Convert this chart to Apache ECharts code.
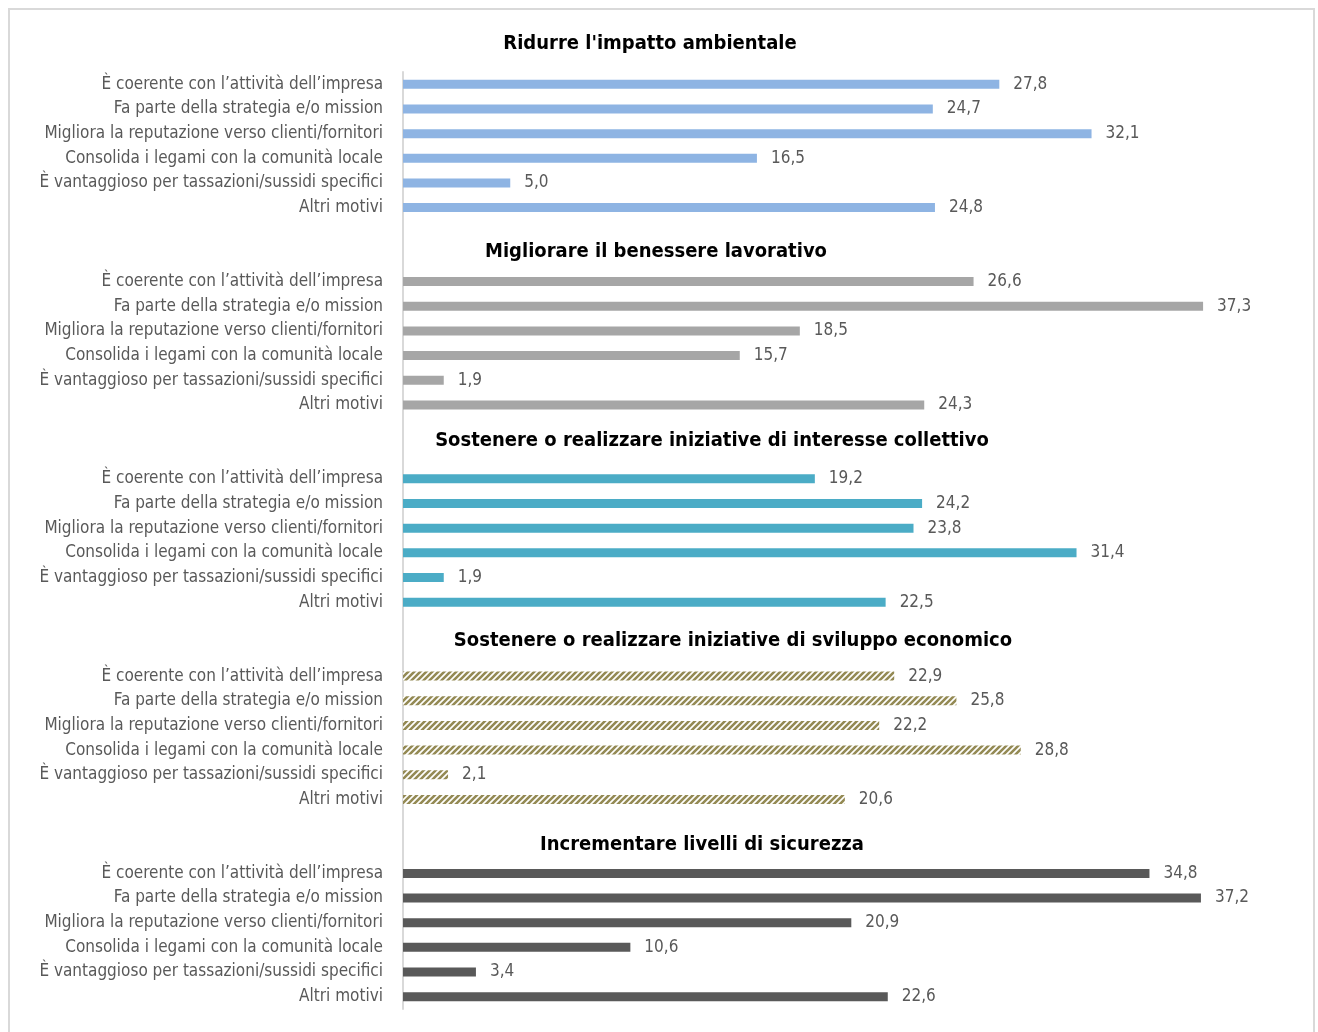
<!DOCTYPE html>
<html>
<head>
<meta charset="utf-8">
<script src="https://cdn.jsdelivr.net/npm/echarts@6/dist/echarts.min.js"></script>
<style>
html,body{margin:0;padding:0;background:#fff;}
#frame{position:absolute;left:8px;top:8px;width:1307px;height:1040px;border:2px solid #d9d9d9;box-sizing:border-box;}
#chart{position:absolute;left:0;top:0;width:1318px;height:1032px;}
</style>
</head>
<body>
<div id="frame"></div>
<div id="chart"></div>
<script>
const reasons = [
  "È coerente con l’attività dell’impresa",
  "Fa parte della strategia e/o mission",
  "Migliora la reputazione verso clienti/fornitori",
  "Consolida i legami con la comunità locale",
  "È vantaggioso per tassazioni/sussidi specifici",
  "Altri motivi"
];
const groupTitles = [
  "Ridurre l'impatto ambientale",
  "Migliorare il benessere lavorativo",
  "Sostenere o realizzare iniziative di interesse collettivo",
  "Sostenere o realizzare iniziative di sviluppo economico",
  "Incrementare livelli di sicurezza"
];
const ambiente = [27.8, 24.7, 32.1, 16.5, 5.0, 24.8];
const benessere = [26.6, 37.3, 18.5, 15.7, 1.9, 24.3];
const collettivo = [19.2, 24.2, 23.8, 31.4, 1.9, 22.5];
const economico = [22.9, 25.8, 22.2, 28.8, 2.1, 20.6];
const sicurezza = [34.8, 37.2, 20.9, 10.6, 3.4, 22.6];

const groupValues = [ambiente, benessere, collettivo, economico, sicurezza];

const FONT = "'Liberation Sans Narrow', 'Arial Narrow', 'DejaVu Sans Condensed', sans-serif";

// hatch pattern
const S = 6;
const pc = document.createElement('canvas');
pc.width = S; pc.height = S;
const pctx = pc.getContext('2d');
pctx.fillStyle = '#ffffff';
pctx.fillRect(0,0,S,S);
pctx.strokeStyle = '#948a54';
pctx.lineWidth = 2.6;
pctx.beginPath();
for (let o = -S; o <= S; o += S) { pctx.moveTo(o - 1, S + 1); pctx.lineTo(o + S + 1, -1); }
pctx.stroke();

const colors = ['#8eb4e3', '#a6a6a6', '#4bacc6', {image: pc, repeat: 'repeat'}, '#595959'];

// build slots: group 0 = 6 slots, later groups = 2 blank + 6
const cats = [];
const slotGroup = [];
const slotIdx = [];
groupValues.forEach((vals, g) => {
  if (g > 0) { cats.push(''); slotGroup.push(-1); slotIdx.push(-1); cats.push(''); slotGroup.push(-1); slotIdx.push(-1); }
  reasons.forEach((r, i) => { cats.push(r); slotGroup.push(g); slotIdx.push(i); });
});

const series = groupValues.map((vals, g) => ({
  type: 'bar',
  stack: 'all',
  barWidth: 9,
  itemStyle: { color: colors[g] },
  label: {
    show: true, position: 'right', distance: 14,
    color: '#595959', fontSize: 17, fontFamily: FONT,
    formatter: p => p.value.toFixed(1).replace('.', ',')
  },
  data: cats.map((c, k) => slotGroup[k] === g ? vals[slotIdx[k]] : '-')
}));

const titleTops = [29, 237, 426, 626, 830];
const titleCenters = [645, 651, 707, 728, 697];
const titles = groupTitles.map((t, g) => ({
  text: t, left: titleCenters[g], top: titleTops[g], textAlign: 'center',
  textStyle: { fontSize: 20, fontWeight: 'bold', color: '#000', fontFamily: FONT }
}));

const chart = echarts.init(document.getElementById('chart'), null, {renderer: 'canvas'});
chart.setOption({
  animation: false,
  backgroundColor: 'transparent',
  title: titles,
  grid: { left: 403, top: 72, height: 937, right: 57, containLabel: false },
  xAxis: { type: 'value', min: 0, max: 40, show: false },
  yAxis: {
    type: 'category', inverse: true, data: cats,
    axisLine: { show: true, lineStyle: { color: '#d9d9d9', width: 2 } },
    axisTick: { show: false },
    axisLabel: { interval: 0, margin: 20, color: '#595959', fontSize: 17, fontFamily: FONT },
    splitLine: { show: false }
  },
  series: series
});
</script>
</body>
</html>
